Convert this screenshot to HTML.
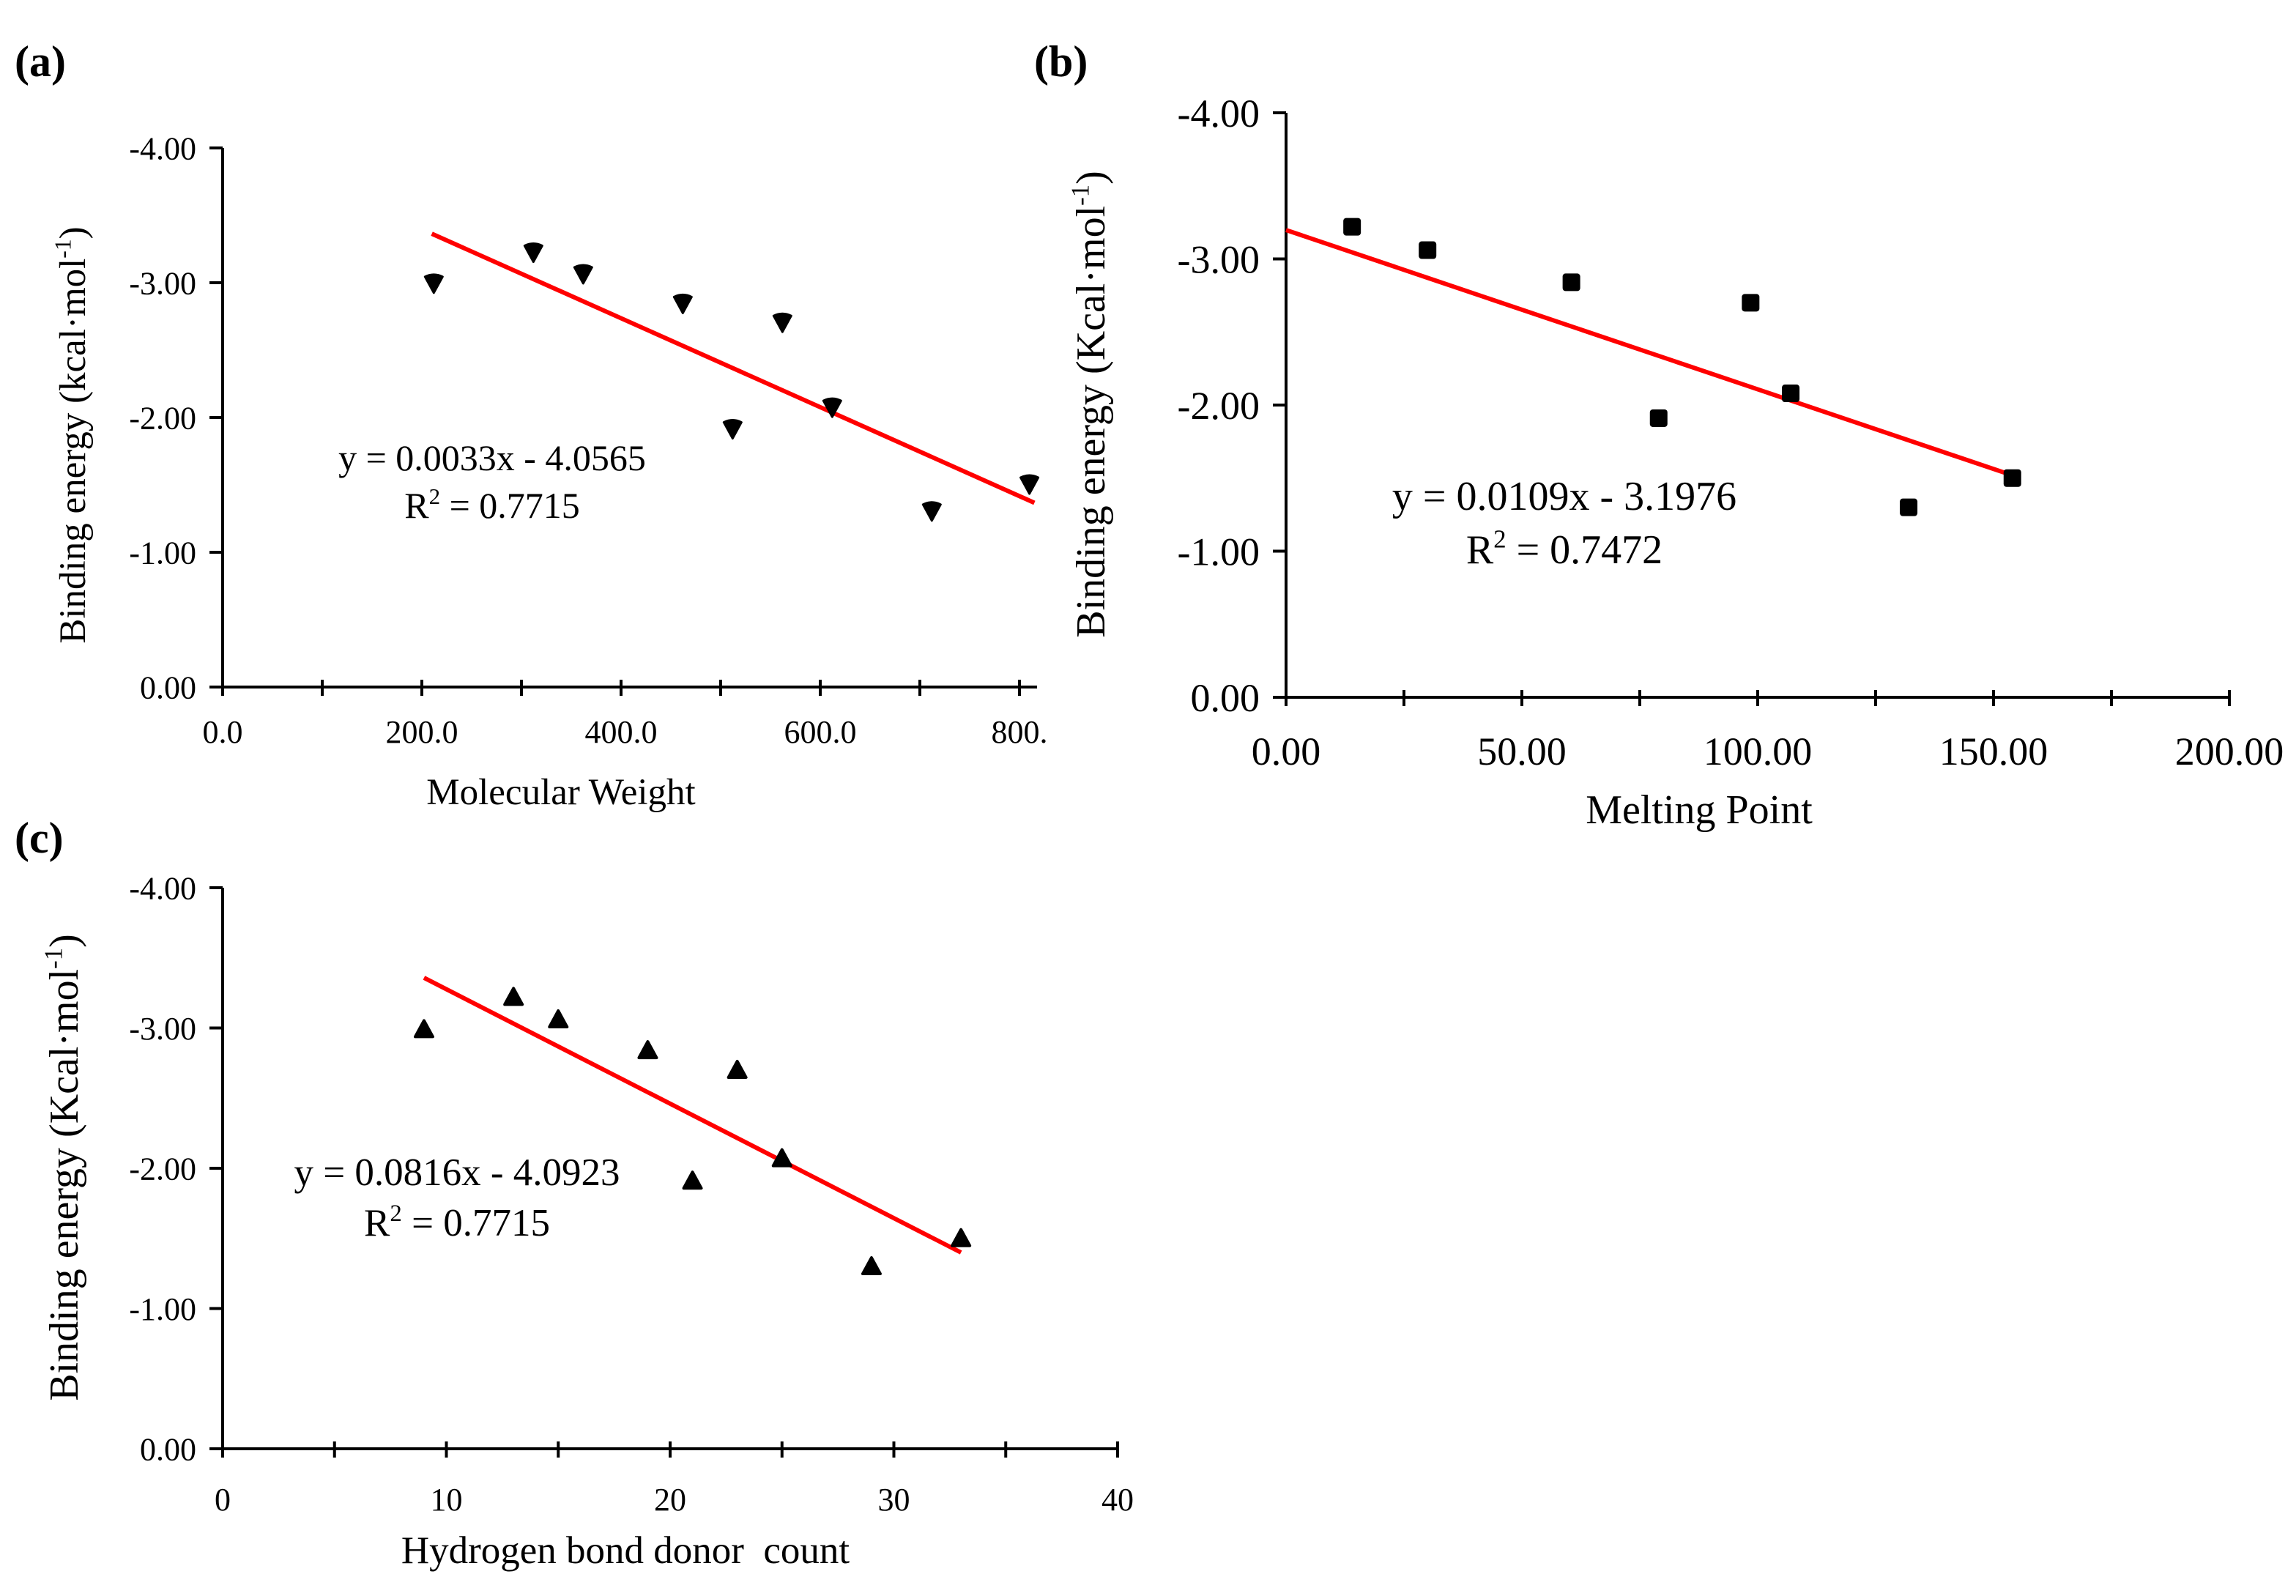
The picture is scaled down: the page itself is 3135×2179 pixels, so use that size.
<!DOCTYPE html>
<html><head><meta charset="utf-8"><style>
html,body{margin:0;padding:0;background:#fff;}
svg{display:block;font-family:"Liberation Serif",serif;}
text{white-space:pre;}
</style></head><body>
<svg id="fig" width="3135" height="2179" viewBox="0 0 1567.5 1089.5" xmlns="http://www.w3.org/2000/svg"></svg>
<script>
// Shared data
const yValues = [-2.99, -3.22, -3.06, -2.84, -1.91, -2.70, -2.07, -1.30, -1.50];
const mwValues = [212, 312, 362, 462, 512, 562, 612, 712, 810];
const mpX = [14, 30, 60.5, 79, 98.5, 107, 132, 154];
const mpY = [-3.22, -3.06, -2.84, -1.91, -2.70, -2.08, -1.30, -1.50];
const hbdValues = [9, 13, 15, 19, 21, 23, 25, 29, 33];
const yTicks = [0, -1, -2, -3, -4];
const yTickLabels = ["0.00", "-1.00", "-2.00", "-3.00", "-4.00"];
const aXTicks = [0, 200, 400, 600, 800];
const aXTickLabels = ["0.0", "200.0", "400.0", "600.0", "800."];
const bXTicks = [0, 50, 100, 150, 200];
const bXTickLabels = ["0.00", "50.00", "100.00", "150.00", "200.00"];
const cXTicks = [0, 10, 20, 30, 40];
const cXTickLabels = ["0", "10", "20", "30", "40"];
const fitA = [0.0033, -4.0565];
const fitB = [0.0109, -3.1976];
const fitC = [0.0816, -4.0923];

const NS = "http://www.w3.org/2000/svg";
const svg = document.getElementById("fig");
function el(tag, attrs, parent) {
  const e = document.createElementNS(NS, tag);
  for (const k in attrs) e.setAttribute(k, attrs[k]);
  (parent || svg).appendChild(e);
  return e;
}

function panel(cfg) {
  const g = el("g", {});
  
  
  const sx = v => cfg.x0 + (v - cfg.xmin) / (cfg.xmax - cfg.xmin) * (cfg.x1 - cfg.x0);
  const sy = v => cfg.yb + (v / -4) * (cfg.yt - cfg.yb);
  const ax = el("line", {x1: cfg.x0, y1: cfg.yb, x2: cfg.xend, y2: cfg.yb, stroke: "#000", "stroke-width": 2}, g);
  
  
  const ay = el("line", {x1: cfg.x0, y1: cfg.yb, x2: cfg.x0, y2: cfg.yt, stroke: "#000", "stroke-width": 2}, g);
  
  
  yTicks.forEach((v, i) => {
    const y = sy(v);
    el("line", {x1: cfg.x0 - 9, y1: y, x2: cfg.x0, y2: y, stroke: "#000", "stroke-width": 2}, g);
    const t = el("text", {x: cfg.x0 - 18, y: y + cfg.tf * 0.35, "text-anchor": "end", "font-size": cfg.tf}, g);
    t.textContent = yTickLabels[i];
    
    
  });
  for (let v = cfg.xmin; v <= cfg.xmax + 1e-9; v += cfg.minor) {
    const x = sx(v);
    el("line", {x1: x, y1: cfg.yb - 5, x2: x, y2: cfg.yb + 6, stroke: "#000", "stroke-width": 2}, g);
  }
  cfg.xticks.forEach((v, i) => {
    const t = el("text", {x: sx(v), y: cfg.yb + cfg.xly, "text-anchor": "middle", "font-size": cfg.tf}, g);
    t.textContent = cfg.xlabels[i];
    
    
  });
  const xt = el("text", {x: cfg.xtx, y: cfg.xty, "text-anchor": "middle", "font-size": cfg.xf}, g);
  xt.textContent = cfg.xtitle;
  
  
  const yt = el("text", {x: 0, y: 0, "text-anchor": "middle", "font-size": cfg.yf, transform: `translate(${cfg.ytx},${cfg.yty}) rotate(-90)`}, g);
  
  
  yt.appendChild(document.createTextNode(cfg.ytitle + "·mol"));
  const sup = el("tspan", {dy: -cfg.yf * 0.38, "font-size": cfg.yf * 0.62}, yt); sup.textContent = "-1";
  const cl = el("tspan", {dy: cfg.yf * 0.38}, yt); cl.textContent = ")";
  const pl = el("text", {x: cfg.plx, y: cfg.ply, "font-size": 30, "font-weight": "bold"}, g);
  pl.textContent = cfg.label;
  
  
  const [m, b] = cfg.fit;
  const fl = el("line", {x1: sx(cfg.fx0), y1: sy(m * cfg.fx0 + b), x2: sx(cfg.fx1), y2: sy(m * cfg.fx1 + b), stroke: "#ff0000", "stroke-width": 3}, g);
  
  
  cfg.xs.forEach((xv, i) => {
    const x = sx(xv), y = sy(cfg.ys[i]);
    let p;
    if (cfg.marker === "square") p = el("rect", {x: x - 6, y: y - 6, width: 12, height: 12, rx: 2, fill: "#000"}, g);
    else if (cfg.marker === "down") p = el("path", {d: `M${x-6},${y-5} Q${x},${y-8} ${x+6},${y-5} L${x},${y+6} Z`, fill: "#000", stroke: "#000", "stroke-width": 1.5, "stroke-linejoin": "round"}, g);
    else p = el("path", {d: `M${x},${y-6} L${x+6},${y+5} L${x-6},${y+5} Z`, fill: "#000", stroke: "#000", "stroke-width": 2, "stroke-linejoin": "round"}, g);
    
    
  });
  const e1 = el("text", {x: cfg.eqx, y: cfg.eqy, "text-anchor": "middle", "font-size": cfg.ef}, g);
  e1.textContent = `y = ${m}x - ${(-b).toFixed(4)}`;
  
  
  const e2 = el("text", {x: cfg.eqx, y: cfg.eqy + cfg.ef * 1.3, "text-anchor": "middle", "font-size": cfg.ef}, g);
  
  
  e2.appendChild(document.createTextNode("R"));
  const s2 = el("tspan", {dy: -cfg.ef * 0.38, "font-size": cfg.ef * 0.62}, e2); s2.textContent = "2";
  const s3 = el("tspan", {dy: cfg.ef * 0.38}, e2); s3.textContent = " = " + cfg.r2;
}

panel({name: "panel-a", label: "(a)", plx: 10, ply: 52, x0: 152, x1: 696, xend: 708, xmin: 0, xmax: 800, minor: 100,
  yb: 469, yt: 101, xticks: aXTicks, xlabels: aXTickLabels, xtitle: "Molecular Weight", xtx: 383, xty: 549,
  ytitle: "Binding energy (kcal", ytx: 58, yty: 297, fit: fitA, fx0: 210, fx1: 815, xs: mwValues, ys: yValues,
  marker: "down", eqx: 336, eqy: 321, r2: "0.7715", tf: 22, xf: 25.5, yf: 25.5, ef: 25, xly: 38});
panel({name: "panel-b", label: "(b)", plx: 706, ply: 52, x0: 878, x1: 1522, xend: 1522, xmin: 0, xmax: 200, minor: 25,
  yb: 476, yt: 77, xticks: bXTicks, xlabels: bXTickLabels, xtitle: "Melting Point", xtx: 1160, xty: 562,
  ytitle: "Binding energy (Kcal", ytx: 754, yty: 276, fit: fitB, fx0: 0, fx1: 154, xs: mpX, ys: mpY,
  marker: "square", eqx: 1068, eqy: 348, r2: "0.7472", tf: 27, xf: 28, yf: 28, ef: 28, xly: 46});
panel({name: "panel-c", label: "(c)", plx: 10, ply: 582, x0: 152, x1: 763, xend: 763, xmin: 0, xmax: 40, minor: 5,
  yb: 989, yt: 606, xticks: cXTicks, xlabels: cXTickLabels, xtitle: "Hydrogen bond donor  count", xtx: 427, xty: 1067,
  ytitle: "Binding energy (Kcal", ytx: 53, yty: 797, fit: fitC, fx0: 9, fx1: 33, xs: hbdValues, ys: yValues,
  marker: "up", eqx: 312, eqy: 809, r2: "0.7715", tf: 22, xf: 26.5, yf: 28, ef: 26.5, xly: 42});
</script>
</body></html>
